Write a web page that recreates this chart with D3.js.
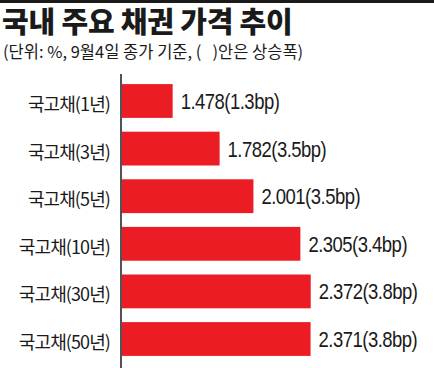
<!DOCTYPE html>
<html><head><meta charset="utf-8">
<script src="https://cdn.jsdelivr.net/npm/d3@7"></script>
<style>
html,body{margin:0;padding:0;background:#fff;}
svg{display:block;}
</style></head>
<body>
<svg id="chart" width="434" height="368"></svg>
<script>
const categories = ["국고채(1년)","국고채(3년)","국고채(5년)","국고채(10년)","국고채(30년)","국고채(50년)"];
const values = [1.478, 1.782, 2.001, 2.305, 2.372, 2.371];
const changes = ["1.3bp","3.5bp","3.5bp","3.4bp","3.8bp","3.8bp"];
const title = "국내 주요 채권 가격 추이";
const subtitle = "(단위: %, 9월4일 종가 기준, (\u00a0\u00a0\u00a0)안은 상승폭)";

const svg = d3.select("#chart");
const W = 434, H = 368;
svg.append("rect").attr("x",0).attr("y",0).attr("width",W).attr("height",H).attr("fill","#fff");
svg.append("rect").attr("x",0).attr("y",0).attr("width",W).attr("height",3).attr("fill","#1a1a1a");

svg.append("text").attr("x",2).attr("y",33)
  .attr("font-family","'Noto Sans CJK KR'").attr("font-weight",900).attr("font-size",29)
  .attr("fill","#1a1a1a").attr("letter-spacing",-0.2).text(title);
svg.append("text").attr("x",3).attr("y",58)
  .attr("font-family","'Noto Sans CJK KR'").attr("font-size",16.5)
  .attr("fill","#1a1a1a").attr("letter-spacing",0).text(subtitle);

const x = d3.scaleLinear().domain([1.15, 2.5]).range([122, 330.5]);
const y = d3.scaleBand().domain(categories).range([76, 364]).paddingInner(0.29).paddingOuter(0.17);

svg.selectAll("rect.bar").data(values).join("rect").attr("class","bar")
  .attr("x", x(1.15)).attr("y",(d,i)=>y(categories[i]))
  .attr("width", d=>x(d)-x(1.15)).attr("height", y.bandwidth())
  .attr("fill","#ec1c24");

svg.selectAll("text.cat").data(categories).join("text").attr("class","cat")
  .attr("x",110).attr("y",d=>y(d)+y.bandwidth()/2+10)
  .attr("text-anchor","end")
  .attr("font-family","'Noto Sans CJK KR'").attr("font-size",18).attr("letter-spacing",-0.9)
  .attr("fill","#1a1a1a").text(d=>d);

const sx = 0.86;
svg.selectAll("text.val").data(values).join("text").attr("class","val")
  .attr("transform",(d,i)=>`translate(${x(d)+8},${y(categories[i])+y.bandwidth()/2+8}) scale(${sx},1)`)
  .attr("font-family","'Liberation Sans', Arial, sans-serif").attr("font-size",21.5).attr("letter-spacing",-0.6)
  .attr("fill","#1a1a1a").text((d,i)=>d3.format(".3f")(d)+"("+changes[i]+")");

svg.append("line").attr("x1",121).attr("x2",121).attr("y1",74).attr("y2",H)
  .attr("stroke","#1a1a1a").attr("stroke-width",1.5);
</script>
</body></html>
